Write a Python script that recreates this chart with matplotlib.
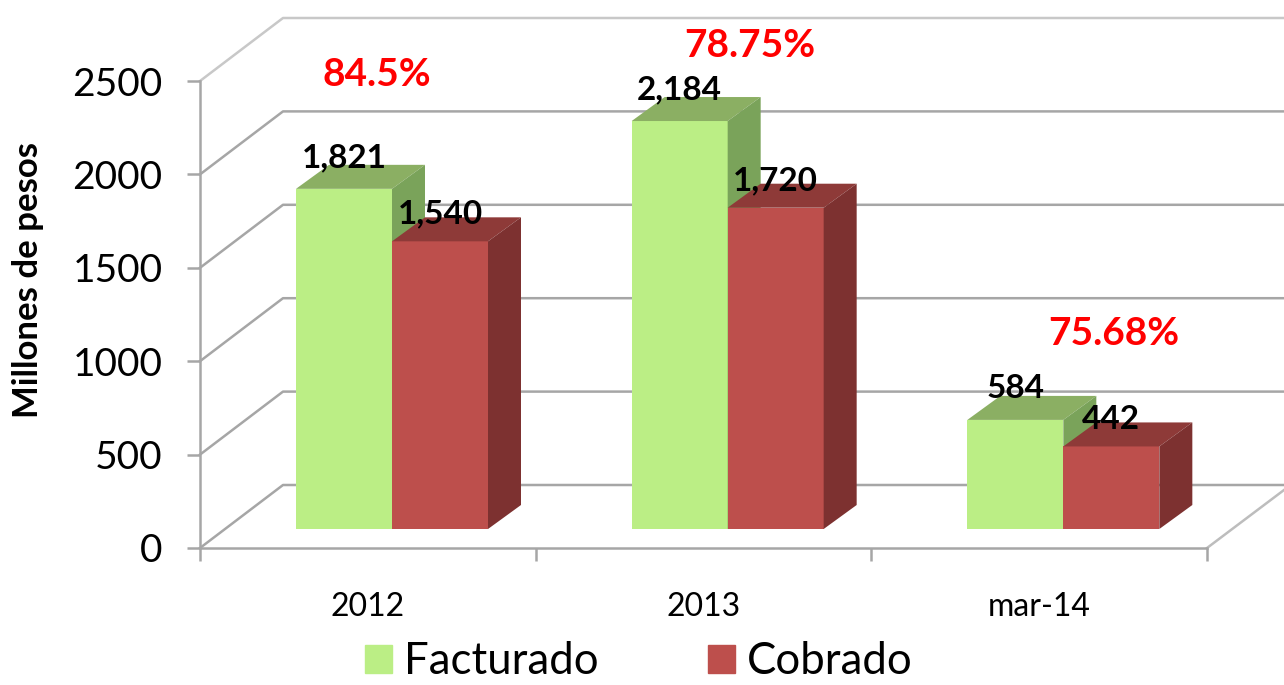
import matplotlib
matplotlib.use('Agg')
import matplotlib.pyplot as plt
from matplotlib.patches import Patch, Polygon

plt.rcParams['font.family'] = ['Lato', 'DejaVu Sans']

# Datos
periodos = ['2012', '2013', 'mar-14']
facturado = [1821, 2184, 584]
cobrado = [1540, 1720, 442]
etiquetas_fact = ['1,821', '2,184', '584']
etiquetas_cob = ['1,540', '1,720', '442']
porcentajes = ['84.5%', '78.75%', '75.68%']
niveles = [0, 500, 1000, 1500, 2000, 2500]

# Colores
verde, verde_top, verde_lado = '#BBEE85', '#8BAF63', '#7AA35A'
rojo, rojo_top, rojo_lado = '#BD4F4C', '#8E3A38', '#7D3130'
gris = '#A6A6A6'

fig = plt.figure(figsize=(12.84, 6.85), dpi=100)
ax = fig.add_axes([200 / 1284, (685 - 548) / 685, 1007 / 1284, 467 / 685])
ax.set_xlim(0, 3)
ax.set_ylim(0, 2500)

# pixeles a unidades de datos
px = 3 / 1007
py = 2500 / 467

# pared del fondo y lineas de guia
pared_dx, pared_dy = 83 * px, 63 * py
borde = 1284 * px - 200 * px
for n in niveles:
    c = '#C8C8C8' if n == 2500 else gris
    ax.plot([0, pared_dx, borde], [n, n + pared_dy, n + pared_dy], color=c, lw=1.8,
            clip_on=False, zorder=1)
ax.plot([3, borde], [0, 58 * py], color='#BDBDBD', lw=1.8, clip_on=False, zorder=1)


def barra(x, valor, color, top, lado):
    base = 19 * py
    ancho = 96 * px
    dx, dy = 33 * px, 24 * py
    y1 = base + valor
    ax.bar(x, valor, width=ancho, bottom=base, align='edge', color=color, zorder=3, clip_on=False)
    ax.add_patch(Polygon([(x, y1), (x + ancho, y1), (x + ancho + dx, y1 + dy), (x + dx, y1 + dy)],
                         color=top, lw=0, zorder=3, clip_on=False))
    ax.add_patch(Polygon([(x + ancho, base), (x + ancho + dx, base + dy), (x + ancho + dx, y1 + dy),
                          (x + ancho, y1)], color=lado, lw=0, zorder=3, clip_on=False))
    return x + ancho / 2, y1


for i in range(3):
    x0 = i + 96 * px
    xv, yv = barra(x0, facturado[i], verde, verde_top, verde_lado)
    ax.annotate(etiquetas_fact[i], (xv, yv), xytext=(0, 22.5), textcoords='offset points',
                ha='center', va='center', fontsize=24, fontweight='bold', color='black', zorder=5)
    xr, yr = barra(x0 + 96 * px, cobrado[i], rojo, rojo_top, rojo_lado)
    ax.annotate(etiquetas_cob[i], (xr, yr), xytext=(0, 19.5), textcoords='offset points',
                ha='center', va='center', fontsize=24, fontweight='bold', color='black', zorder=5)

# porcentajes
pos_pct = [(0.527, 2537), (1.639, 2692), (2.723, 1148)]
for txt, (xp, yp) in zip(porcentajes, pos_pct):
    ax.text(xp, yp, txt, color='#FF0000', fontsize=28, fontweight='bold', ha='center', va='center',
            zorder=5, clip_on=False)

# ejes
for s in ['top', 'right']:
    ax.spines[s].set_visible(False)
for s in ['left', 'bottom']:
    ax.spines[s].set_color(gris)
    ax.spines[s].set_linewidth(1.8)
ax.set_yticks(niveles)
ax.tick_params(axis='y', length=9.5, width=1.8, color=gris, labelsize=28, pad=17.5)
ax.set_xticks([0, 1, 2, 3])
ax.set_xticklabels([])
ax.tick_params(axis='x', length=9, width=1.8, color=gris)
ax.set_xticks([0.5, 1.5, 2.5], minor=True)
ax.set_xticklabels(periodos, minor=True, fontsize=23)
ax.tick_params(axis='x', which='minor', length=0, pad=32)
ax.set_facecolor('none')

fig.text(28 / 1284, 1 - 280 / 685, 'Millones de pesos', rotation=90, fontsize=25, fontweight='bold',
         ha='center', va='center')

ax.legend(handles=[Patch(color=verde, label='Facturado'), Patch(color=rojo, label='Cobrado')],
          loc='center', bbox_to_anchor=(639 / 1284, 1 - 662 / 685), bbox_transform=fig.transFigure,
          ncol=2, frameon=False, fontsize=31.5, handlelength=0.62, handleheight=0.62,
          handletextpad=0.27, columnspacing=2.5, borderpad=0, borderaxespad=0)

fig.savefig('out.png', dpi=100)
